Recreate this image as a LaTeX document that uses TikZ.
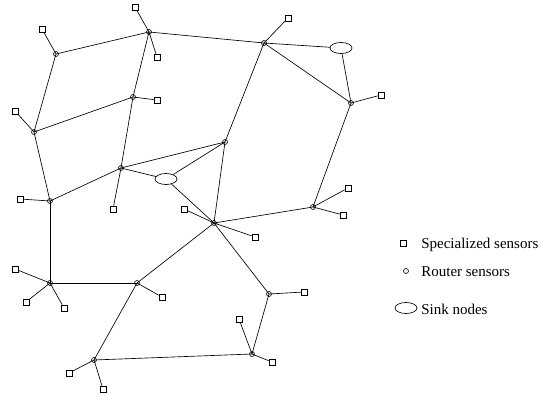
\documentclass[tikz,border=0pt]{standalone}
\usepackage{fontspec}
\setmainfont{Liberation Serif}
\usetikzlibrary{shapes.geometric}
\tikzset{
  router/.style={circle,draw,inner sep=0pt,minimum size=5pt},
  special/.style={rectangle,draw,fill=white,inner sep=0pt,minimum size=6pt},
  sink/.style={ellipse,draw,fill=white,inner sep=0pt,minimum width=22pt,minimum height=11pt},
  link/.style={line width=0.65pt},
  legendtext/.style={anchor=west,inner sep=0pt,font=\fontsize{15}{17}\selectfont}
}
\begin{document}
\begin{tikzpicture}[x=1pt,y=-1pt,line width=0.65pt]
\useasboundingbox (0,0) rectangle (542,396);
% router sensors
\node[router] (r1)  at (149,32) {};
\node[router] (r2)  at (56,54) {};
\node[router] (r3)  at (133,97) {};
\node[router] (r4)  at (34,132) {};
\node[router] (r5)  at (121,168) {};
\node[router] (r6)  at (50,201) {};
\node[router] (r7)  at (225,142) {};
\node[router] (r8)  at (264,43) {};
\node[router] (r9)  at (351,103) {};
\node[router] (r10) at (313,207) {};
\node[router] (r11) at (214,223) {};
\node[router] (r12) at (50,283) {};
\node[router] (r13) at (137,283) {};
\node[router] (r14) at (269,294) {};
\node[router] (r15) at (252,354) {};
\node[router] (r16) at (94,360) {};
% sink nodes
\node[sink] (s1) at (341,48) {};
\node[sink] (s2) at (166,179) {};
% specialized sensors
\node[special] (q1a)  at (135,7) {};
\node[special] (q1b)  at (157,57) {};
\node[special] (q2)   at (42,29) {};
\node[special] (q3)   at (157,100) {};
\node[special] (q4)   at (15,111) {};
\node[special] (q5)   at (113,209) {};
\node[special] (q6)   at (20,199) {};
\node[special] (q8)   at (288,18) {};
\node[special] (q9)   at (381,95) {};
\node[special] (q10a) at (348,188) {};
\node[special] (q10b) at (343,215) {};
\node[special] (q11a) at (184,209) {};
\node[special] (q11b) at (255,237) {};
\node[special] (q12a) at (15,269) {};
\node[special] (q12b) at (26,302) {};
\node[special] (q12c) at (64,308) {};
\node[special] (q13)  at (162,297) {};
\node[special] (q14)  at (304,292) {};
\node[special] (q15a) at (239,319) {};
\node[special] (q15b) at (272,362) {};
\node[special] (q16a) at (69,373) {};
\node[special] (q16b) at (103,389) {};
% links between routers and sinks
\draw[link] (r1.center) -- (r2.center);
\draw[link] (r1.center) -- (r8.center);
\draw[link] (r1.center) -- (r3.center);
\draw[link] (r2.center) -- (r4.center);
\draw[link] (r3.center) -- (r4.center);
\draw[link] (r3.center) -- (r5.center);
\draw[link] (r4.center) -- (r6.center);
\draw[link] (r5.center) -- (r6.center);
\draw[link] (r5.center) -- (r7.center);
\draw[link] (r5.center) -- (s2);
\draw[link] (s2) -- (r7.center);
\draw[link] (s2) -- (r11.center);
\draw[link] (r6.center) -- (r12.center);
\draw[link] (r12.center) -- (r13.center);
\draw[link] (r13.center) -- (r11.center);
\draw[link] (r13.center) -- (r16.center);
\draw[link] (r11.center) -- (r7.center);
\draw[link] (r11.center) -- (r10.center);
\draw[link] (r11.center) -- (r14.center);
\draw[link] (r7.center) -- (r8.center);
\draw[link] (r8.center) -- (s1);
\draw[link] (r8.center) -- (r9.center);
\draw[link] (s1) -- (r9.center);
\draw[link] (r9.center) -- (r10.center);
\draw[link] (r14.center) -- (r15.center);
\draw[link] (r15.center) -- (r16.center);
% links to specialized sensors
\draw[link] (r1.center) -- (q1a);
\draw[link] (r1.center) -- (q1b);
\draw[link] (r2.center) -- (q2);
\draw[link] (r3.center) -- (q3);
\draw[link] (r4.center) -- (q4);
\draw[link] (r5.center) -- (q5);
\draw[link] (r6.center) -- (q6);
\draw[link] (r8.center) -- (q8);
\draw[link] (r9.center) -- (q9);
\draw[link] (r10.center) -- (q10a);
\draw[link] (r10.center) -- (q10b);
\draw[link] (r11.center) -- (q11a);
\draw[link] (r11.center) -- (q11b);
\draw[link] (r12.center) -- (q12a);
\draw[link] (r12.center) -- (q12b);
\draw[link] (r12.center) -- (q12c);
\draw[link] (r13.center) -- (q13);
\draw[link] (r14.center) -- (q14);
\draw[link] (r15.center) -- (q15a);
\draw[link] (r15.center) -- (q15b);
\draw[link] (r16.center) -- (q16a);
\draw[link] (r16.center) -- (q16b);
% legend
\node[special] (lq) at (403,243) {};
\node[legendtext] (lqt) at (421,245) {Specialized sensors};
\node[router] (lr) at (406,271) {};
\node[legendtext] (lrt) at (421,272) {Router sensors};
\node[sink] (ls) at (406,308) {};
\node[legendtext] (lst) at (421,309) {Sink nodes};
\end{tikzpicture}
\end{document}
